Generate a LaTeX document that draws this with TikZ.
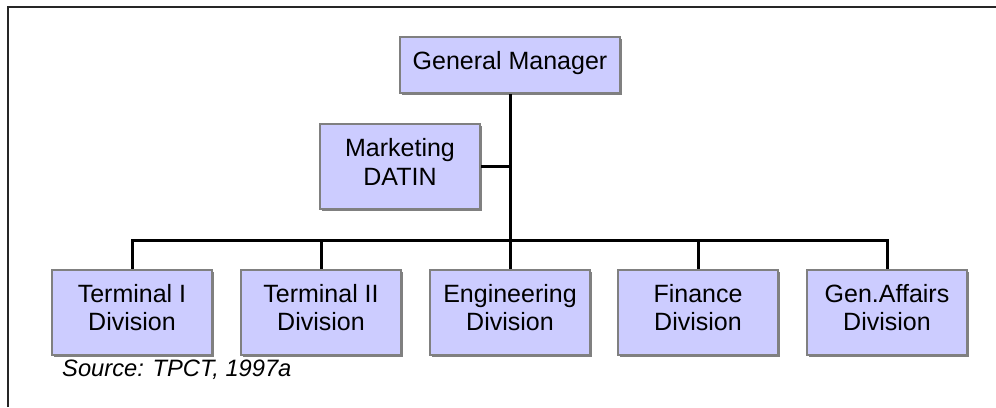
\documentclass[tikz,border=0pt]{standalone}
\usepackage{fontspec}
\setmainfont{Liberation Sans}
\usetikzlibrary{shadows}
\definecolor{boxfill}{RGB}{204,204,255}
\definecolor{boxedge}{RGB}{128,128,128}
\tikzset{
  orgbox/.style={draw=boxedge, line width=2.5pt, fill=boxfill, inner sep=0pt,
    minimum width=160pt, minimum height=85pt,
    drop shadow={shadow xshift=2pt, shadow yshift=-2pt, fill=boxedge, opacity=1}},
  boxtext/.style={align=center, inner sep=0pt, font=\fontsize{25}{28.5}\selectfont},
  link/.style={line width=3pt, black},
  frame/.style={line width=2.5pt, black!85}
}
\begin{document}
\begin{tikzpicture}[x=1pt,y=-1pt]
\useasboundingbox (0,0) rectangle (996,407);
\draw[frame] (8,407) -- (8,7) -- (996,7);
\node[orgbox, minimum width=220pt, minimum height=56pt] (gm) at (510,65) {};
\node[orgbox] (mkt) at (400,166.5) {};
\node[orgbox] (t1) at (132,312.5) {};
\node[orgbox] (t2) at (321,312.5) {};
\node[orgbox] (eng) at (510,312.5) {};
\node[orgbox] (fin) at (698,312.5) {};
\node[orgbox] (ga) at (887,312.5) {};
\node[boxtext] (gmt) at ([yshift=2pt]gm.center) {General Manager};
\node[boxtext] (mktt) at ([yshift=4.5pt]mkt.center) {Marketing\\DATIN};
\node[boxtext] (t1t) at ([yshift=5pt]t1.center) {Terminal I\\Division};
\node[boxtext] (t2t) at ([yshift=5pt]t2.center) {Terminal II\\Division};
\node[boxtext] (engt) at ([yshift=5pt]eng.center) {Engineering\\Division};
\node[boxtext] (fint) at ([yshift=5pt]fin.center) {Finance\\Division};
\node[boxtext] (gat) at ([yshift=5pt]ga.center) {Gen.Affairs\\Division};
\coordinate (bus) at (510,240);
\draw[link] (gm.south) -- (eng.north);
\draw[link] (mkt.east) -- (mkt.east -| gm.south);
\draw[link] (t1.north) |- (bus) -| (ga.north);
\draw[link] (t2.north) -- (t2.north |- bus);
\draw[link] (fin.north) -- (fin.north |- bus);
\node[anchor=west, font=\fontsize{23.7}{28}\selectfont\itshape, inner sep=0pt] (src) at (62,370) {Source: TPCT, 1997a};
\end{tikzpicture}
\end{document}
